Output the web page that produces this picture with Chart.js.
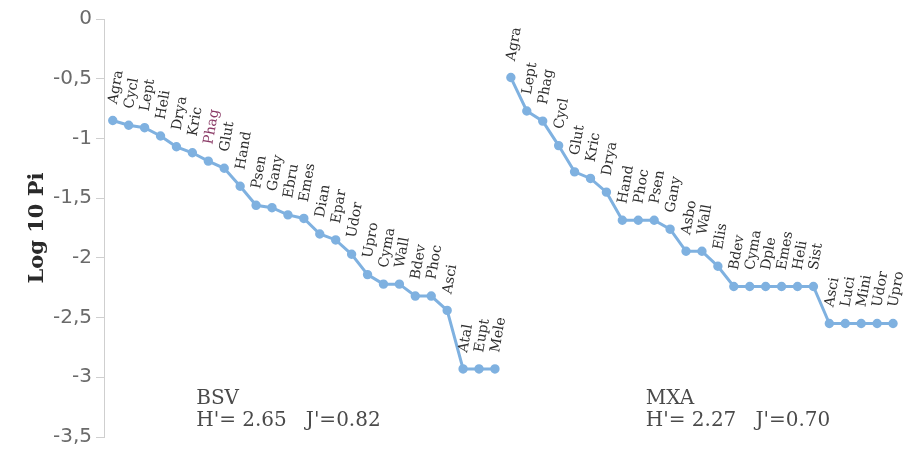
<!DOCTYPE html>
<html>
<head>
<meta charset="utf-8">
<script src="https://cdn.jsdelivr.net/npm/chart.js@4.4.1/dist/chart.umd.min.js"></script>
<style>
  html, body { margin: 0; padding: 0; background: #fff; }
  #wrap { width: 908px; height: 453px; }
</style>
</head>
<body>
<div id="wrap"><canvas id="chart" width="908" height="453"></canvas></div>
<script>
// BSV site - species ranked by log10 of relative abundance
const bsvSpecies = ['Agra', 'Cycl', 'Lept', 'Heli', 'Drya', 'Kric', 'Phag', 'Glut', 'Hand', 'Psen',
    'Gany', 'Ebru', 'Emes', 'Dian', 'Epar', 'Udor', 'Upro', 'Cyma', 'Wall', 'Bdev', 'Phoc', 'Asci',
    'Atal', 'Eupt', 'Mele'];
const bsvLogPi = [-0.85, -0.89, -0.91, -0.98, -1.07, -1.12, -1.19, -1.25, -1.40, -1.56,
    -1.58, -1.64, -1.67, -1.80, -1.85, -1.97, -2.14, -2.22, -2.22, -2.32, -2.32, -2.44,
    -2.93, -2.93, -2.93];

// MXA site
const mxaSpecies = ['Agra', 'Lept', 'Phag', 'Cycl', 'Glut', 'Kric', 'Drya', 'Hand', 'Phoc', 'Psen',
    'Gany', 'Asbo', 'Wall', 'Elis', 'Bdev', 'Cyma', 'Dple', 'Emes', 'Heli', 'Sist',
    'Asci', 'Luci', 'Mini', 'Udor', 'Upro'];
const mxaLogPi = [-0.49, -0.77, -0.855, -1.06, -1.28, -1.335, -1.45, -1.685, -1.685, -1.685,
    -1.76, -1.945, -1.945, -2.07, -2.24, -2.24, -2.24, -2.24, -2.24, -2.24,
    -2.55, -2.55, -2.55, -2.55, -2.55];

const yTicks = [0, -0.5, -1, -1.5, -2, -2.5, -3, -3.5];

const siteNotes = [
    { name: 'BSV', stats: "H'= 2.65   J'=0.82", x: 5.24 },
    { name: 'MXA', stats: "H'= 2.27   J'=0.70", x: 33.47 }
];

const lineColor = '#7fb1e0';

// the two curves sit side by side on one rank axis
const toPoints = (values, start) => values.map((v, i) => ({ x: start + i, y: v }));

const pointLabels = {
    id: 'pointLabels',
    afterDatasetsDraw(chart) {
        const ctx = chart.ctx;
        chart.data.datasets.forEach((ds, i) => {
            const meta = chart.getDatasetMeta(i);
            meta.data.forEach((pt, j) => {
                const name = ds.names[j];
                ctx.save();
                ctx.translate(pt.x + 4, pt.y - 16);
                ctx.rotate(-80 * Math.PI / 180);
                ctx.font = '14px "DejaVu Serif"';
                ctx.fillStyle = (i === 0 && name === 'Phag') ? '#8a3a66' : '#2e2e2e';
                ctx.textAlign = 'left';
                ctx.textBaseline = 'alphabetic';
                ctx.fillText(name, 0, 0);
                ctx.restore();
            });
        });

        // site names and diversity indices
        const xs = chart.scales.x, ys = chart.scales.y;
        ctx.save();
        ctx.font = '20px "DejaVu Serif"';
        ctx.fillStyle = '#4a4a4a';
        ctx.textAlign = 'left';
        ctx.textBaseline = 'alphabetic';
        siteNotes.forEach(n => {
            const px = xs.getPixelForValue(n.x);
            ctx.fillText(n.name, px, ys.getPixelForValue(-3.22));
            ctx.fillText(n.stats, px, ys.getPixelForValue(-3.405));
        });
        ctx.restore();
    }
};

const ctx = document.getElementById('chart').getContext('2d');
new Chart(ctx, {
    type: 'line',
    data: {
        datasets: [
            {
                label: 'BSV',
                names: bsvSpecies,
                data: toPoints(bsvLogPi, 0),
                borderColor: lineColor,
                backgroundColor: lineColor,
                borderWidth: 3,
                pointRadius: 3.2,
                pointHoverRadius: 3.2,
                tension: 0
            },
            {
                label: 'MXA',
                names: mxaSpecies,
                data: toPoints(mxaLogPi, bsvLogPi.length),
                borderColor: lineColor,
                backgroundColor: lineColor,
                borderWidth: 3,
                pointRadius: 3.2,
                pointHoverRadius: 3.2,
                tension: 0
            }
        ]
    },
    options: {
        responsive: false,
        animation: false,
        layout: { padding: { top: 19, bottom: 12, left: 0, right: 0 } },
        plugins: {
            legend: { display: false },
            tooltip: { enabled: false }
        },
        scales: {
            x: {
                type: 'linear',
                display: false,
                min: -0.55,
                max: 49.55
            },
            y: {
                min: -3.5,
                max: 0,
                afterFit(scale) { scale.width = 104; },
                afterBuildTicks(scale) { scale.ticks = yTicks.map(v => ({ value: v })); },
                ticks: {
                    color: '#6a6a6a',
                    padding: 4,
                    font: { family: '"DejaVu Sans"', size: 20 },
                    callback: v => String(v).replace('.', ',')
                },
                grid: {
                    display: true,
                    drawOnChartArea: false,
                    drawTicks: true,
                    tickLength: 8,
                    color: '#cfcfcf'
                },
                border: { display: true, color: '#cfcfcf', width: 1 },
                title: {
                    display: true,
                    text: 'Log 10 Pi',
                    color: '#2a2a2a',
                    font: { family: '"DejaVu Serif"', size: 21, weight: 'bold' },
                    padding: { top: 25, bottom: 0 }
                }
            }
        }
    },
    plugins: [pointLabels]
});
</script>
</body>
</html>
